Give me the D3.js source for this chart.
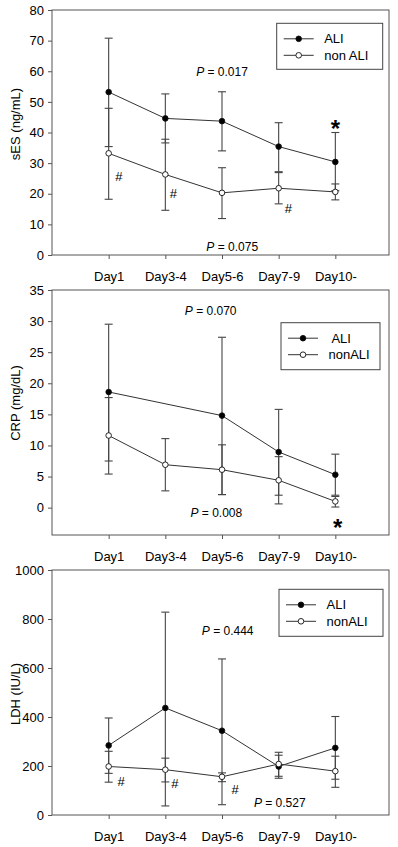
<!DOCTYPE html>
<html>
<head>
<meta charset="utf-8">
<script src="https://cdn.jsdelivr.net/npm/d3@7"></script>
<style>
  body { margin: 0; background: #fff; }
  svg { display: block; font-family: "Liberation Sans", Arial, sans-serif; }
</style>
</head>
<body>
<svg id="chart"></svg>
<script>
// categories
const days = ['Day1', 'Day3-4', 'Day5-6', 'Day7-9', 'Day10-'];

// sES (ng/mL)
const sesAli = [53.2, 44.6, 43.7, 35.4, 30.4];
const sesAliLo = [35.4, 36.6, 34.0, 27.2, 21.0];
const sesAliHi = [70.8, 52.6, 53.3, 43.2, 40.0];
const sesNon = [33.2, 26.3, 20.3, 21.8, 20.6];
const sesNonLo = [18.2, 14.6, 11.9, 16.7, 18.0];
const sesNonHi = [47.9, 37.8, 28.5, 26.9, 23.2];

// CRP (mg/dL) - no ALI value at Day3-4
const crpAli = [18.6, null, 14.8, 8.95, 5.3];
const crpAliLo = [7.5, null, 2.1, 2.0, 2.0];
const crpAliHi = [29.5, null, 27.4, 15.8, 8.6];
const crpNon = [11.6, 6.9, 6.1, 4.4, 1.0];
const crpNonLo = [5.4, 2.7, 2.1, 0.6, 0.1];
const crpNonHi = [17.7, 11.1, 10.1, 8.2, 1.8];

// LDH (IU/L)
const ldhAli = [284, 437, 344, 198, 274];
const ldhAliLo = [170, 37, 42, 150, 146];
const ldhAliHi = [396, 828, 637, 244, 402];
const ldhNon = [198, 185, 156, 208, 179];
const ldhNonLo = [134, 135, 136, 158, 113];
const ldhNonHi = [260, 232, 172, 256, 240];

// tick values
const sesTicks = d3.range(0, 81, 10);
const crpTicks = d3.range(0, 36, 5);
const ldhTicks = d3.range(0, 1001, 200);

// annotations, placed in data units (category index, value)
const sesNotes = [
  { t: 'P = 0.017', i: 2.0, v: 59.8, kind: 'p' },
  { t: 'P = 0.075', i: 2.18, v: 2.6, kind: 'p' },
  { t: '#', i: 0.18, v: 25.6, kind: 'hash' },
  { t: '#', i: 1.14, v: 20.1, kind: 'hash' },
  { t: '#', i: 3.17, v: 15.2, kind: 'hash' },
  { t: '*', i: 4.0, v: 43.4, kind: 'star' }
];
const crpNotes = [
  { t: 'P = 0.070', i: 1.8, v: 31.7, kind: 'p' },
  { t: 'P = 0.008', i: 1.9, v: -0.9, kind: 'p' },
  { t: '*', i: 4.04, v: -2.1, kind: 'star' }
];
const ldhNotes = [
  { t: 'P = 0.444', i: 2.1, v: 750, kind: 'p' },
  { t: 'P = 0.527', i: 3.02, v: 50, kind: 'p' },
  { t: '#', i: 0.22, v: 136, kind: 'hash' },
  { t: '#', i: 1.17, v: 127, kind: 'hash' },
  { t: '#', i: 2.23, v: 106, kind: 'hash' }
];

const panels = [
  { label: 'sES (ng/mL)', labelY: 124, domain: [0, 80], ticks: sesTicks,
    ali: [sesAli, sesAliLo, sesAliHi], non: [sesNon, sesNonLo, sesNonHi],
    names: ['ALI', 'non ALI'], legend: { x: 276.7, y: 13.3, w: 106, h: 46 }, notes: sesNotes },
  { label: 'CRP (mg/dL)', labelY: 403, domain: [-4.4, 35], ticks: crpTicks,
    ali: [crpAli, crpAliLo, crpAliHi], non: [crpNon, crpNonLo, crpNonHi],
    names: [' ALI', 'nonALI'], legend: { x: 281, y: 32.7, w: 99, h: 47 }, notes: crpNotes },
  { label: 'LDH (IU/L)', labelY: 694, domain: [0, 1000], ticks: ldhTicks,
    ali: [ldhAli, ldhAliLo, ldhAliHi], non: [ldhNon, ldhNonLo, ldhNonHi],
    names: ['ALI', 'nonALI'], legend: { x: 279, y: 19.3, w: 104, h: 47 }, notes: ldhNotes }
];

const W = 398, H = 847;
const FONT = '"Liberation Sans", Arial, sans-serif';
const plotH = 245, left = 52, right = 389;

const svg = d3.select('#chart').attr('width', W).attr('height', H);
svg.append('rect').attr('width', W).attr('height', H).attr('fill', '#fff');

const x = d3.scaleLinear().domain([-1, 5]).range([52, 392]);

panels.forEach((p, k) => {
  const top = 10 + k * 280;
  const bottom = top + plotH;
  const y = d3.scaleLinear().domain(p.domain).range([bottom, top]);
  const g = svg.append('g');

  // frame
  g.append('rect')
    .attr('x', left).attr('y', top)
    .attr('width', right - left).attr('height', plotH)
    .attr('fill', 'none').attr('stroke', '#555').attr('stroke-width', 1);

  // y axis
  const ya = g.append('g')
    .attr('transform', `translate(${left},0)`)
    .call(d3.axisLeft(y).tickValues(p.ticks).tickSize(4).tickPadding(4).tickFormat(d3.format('d')));
  ya.select('.domain').remove();
  ya.attr('font-size', 13).attr('font-family', FONT);
  ya.selectAll('line').attr('stroke', '#555');
  ya.selectAll('text').attr('fill', '#000');

  // x axis
  const xa = g.append('g')
    .attr('transform', `translate(0,${bottom})`)
    .call(d3.axisBottom(x).tickValues(d3.range(days.length)).tickSize(4).tickPadding(13)
      .tickFormat(i => days[i]));
  xa.select('.domain').remove();
  xa.attr('font-size', 13).attr('font-family', FONT);
  xa.selectAll('line').attr('stroke', '#555');
  xa.selectAll('text').attr('fill', '#000');

  // y label
  g.append('text')
    .attr('transform', `translate(15,${p.labelY}) rotate(-90)`)
    .attr('text-anchor', 'middle').attr('dy', '0.35em')
    .attr('font-size', 13).attr('fill', '#000')
    .text(p.label);

  const series = [
    { data: p.ali, fill: '#000' },
    { data: p.non, fill: '#fff' }
  ].map(s => ({
    fill: s.fill,
    pts: s.data[0].map((v, i) => ({ i, v, lo: s.data[1][i], hi: s.data[2][i] })).filter(d => d.v != null)
  }));

  // error bars
  series.forEach(s => {
    const eb = g.append('g').attr('stroke', '#444').attr('stroke-width', 1.1);
    s.pts.forEach(d => {
      eb.append('line').attr('x1', x(d.i)).attr('x2', x(d.i)).attr('y1', y(d.lo)).attr('y2', y(d.hi));
      [d.lo, d.hi].forEach(c => {
        eb.append('line').attr('x1', x(d.i) - 4).attr('x2', x(d.i) + 4).attr('y1', y(c)).attr('y2', y(c));
      });
    });
  });

  // lines
  const line = d3.line().x(d => x(d.i)).y(d => y(d.v));
  series.forEach(s => {
    g.append('path').datum(s.pts)
      .attr('fill', 'none').attr('stroke', '#333').attr('stroke-width', 1)
      .attr('d', line);
  });

  // markers
  series.forEach(s => {
    g.append('g').selectAll('circle').data(s.pts).join('circle')
      .attr('cx', d => x(d.i)).attr('cy', d => y(d.v)).attr('r', 2.8)
      .attr('fill', s.fill).attr('stroke', '#111').attr('stroke-width', 0.9);
  });

  // legend
  const L = p.legend;
  const lg = g.append('g').attr('transform', `translate(${L.x},${top + L.y})`);
  lg.append('rect').attr('width', L.w).attr('height', L.h)
    .attr('fill', '#fff').attr('stroke', '#444').attr('stroke-width', 1);
  ['#000', '#fff'].forEach((fill, r) => {
    const ry = 15.5 + r * 16.5;
    lg.append('line').attr('x1', 7).attr('x2', 37).attr('y1', ry).attr('y2', ry)
      .attr('stroke', '#333').attr('stroke-width', 1);
    lg.append('circle').attr('cx', 22).attr('cy', ry).attr('r', 2.8)
      .attr('fill', fill).attr('stroke', '#111').attr('stroke-width', 0.9);
    lg.append('text').attr('x', 47.5).attr('y', ry).attr('dy', '0.35em')
      .attr('font-size', 13).attr('fill', '#000')
      .style('white-space', 'pre')
      .text(p.names[r]);
  });

  // annotations
  p.notes.forEach(n => {
    const t = g.append('text')
      .attr('x', x(n.i)).attr('y', y(n.v))
      .attr('text-anchor', 'middle').attr('fill', '#000');
    if (n.kind === 'p') {
      t.attr('font-size', 12).attr('dy', '0.35em');
      t.append('tspan').attr('font-style', 'italic').text('P');
      t.append('tspan').text(n.t.slice(1));
    } else if (n.kind === 'hash') {
      t.attr('font-size', 13).attr('dy', '0.35em').text(n.t);
    } else {
      t.attr('font-size', 24).attr('font-weight', 'bold').attr('dy', '0.62em').text(n.t);
    }
  });
});
</script>
</body>
</html>
